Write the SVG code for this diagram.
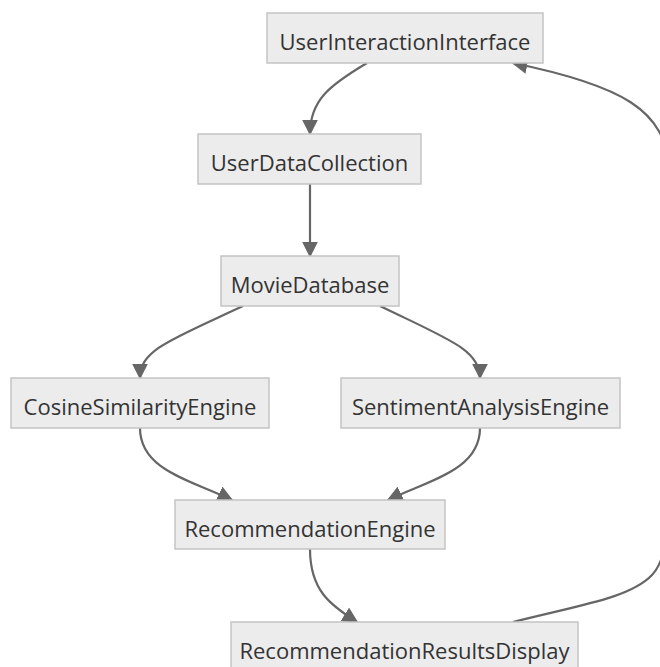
<svg xmlns="http://www.w3.org/2000/svg" width="660" height="667" viewBox="0 0 660 667">
<defs>
<style>
.node rect{fill:#ececec;stroke:#c4c4c4;stroke-width:1.5}
.node text{font-family:"Open Sans","Noto Sans","DejaVu Sans",sans-serif;font-size:22px;fill:#333;text-anchor:middle}
.edge{fill:none;stroke:#666;stroke-width:2.2}
</style>
<marker id="arr" viewBox="0 0 10 10" refX="9" refY="5" markerUnits="userSpaceOnUse" markerWidth="16" markerHeight="16" orient="auto">
<path d="M0,0 L10,5 L0,10 z" fill="#666"/>
</marker>
</defs>
<rect width="660" height="667" fill="#fff"/>
<g id="connectors">
<path class="edge" marker-end="url(#arr)" d="M367,63 C330,85 310,100 310,134"/>
<path class="edge" marker-end="url(#arr)" d="M310,184 L310,256"/>
<path class="edge" marker-end="url(#arr)" d="M243,306 C170,340 140,350 140,378"/>
<path class="edge" marker-end="url(#arr)" d="M380,306 C450,340 480,350 480,378"/>
<path class="edge" marker-end="url(#arr)" d="M140,428 C140,470 190,480 232,500"/>
<path class="edge" marker-end="url(#arr)" d="M480,428 C480,470 430,480 388,500"/>
<path class="edge" marker-end="url(#arr)" d="M310,549 C310,590 330,605 357,622"/>
<path class="edge" marker-end="url(#arr)" d="M513,622 C580,605 630,598 652,575 C664,562 668,540 668,500 L668,170 C668,110 620,85 513,63"/>
</g>
<g id="UserInteractionInterface" class="node"><rect x="267" y="13" width="276" height="50"/><text x="405" y="49.5">UserInteractionInterface</text></g>
<g id="UserDataCollection" class="node"><rect x="198" y="134" width="223" height="50"/><text x="309.5" y="170.5">UserDataCollection</text></g>
<g id="MovieDatabase" class="node"><rect x="221" y="256" width="178" height="50"/><text x="310" y="292.5">MovieDatabase</text></g>
<g id="CosineSimilarityEngine" class="node"><rect x="11" y="378" width="258" height="50"/><text x="140" y="414.5">CosineSimilarityEngine</text></g>
<g id="SentimentAnalysisEngine" class="node"><rect x="341" y="378" width="279" height="50"/><text x="480.5" y="414.5">SentimentAnalysisEngine</text></g>
<g id="RecommendationEngine" class="node"><rect x="175" y="500" width="270" height="49"/><text x="310" y="536.5">RecommendationEngine</text></g>
<g id="RecommendationResultsDisplay" class="node"><rect x="231" y="622" width="347" height="50"/><text x="404.5" y="658.5">RecommendationResultsDisplay</text></g>
</svg>
